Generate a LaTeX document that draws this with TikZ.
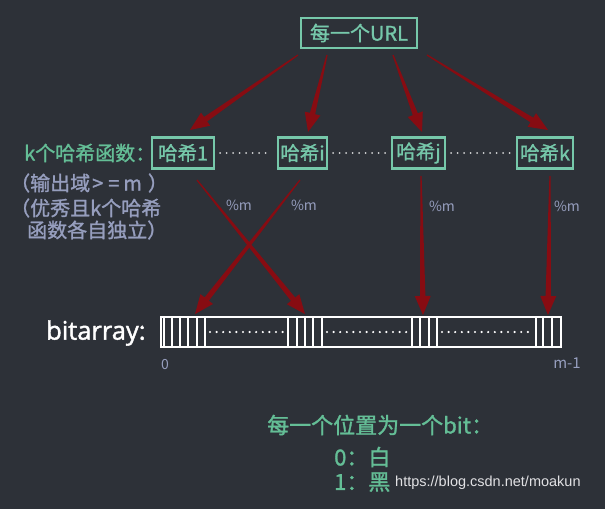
\documentclass[tikz,border=0pt]{standalone}
\usepackage{fontspec}
\setmainfont{Noto Sans CJK SC}
\newfontfamily\cjkm{Noto Sans CJK SC}[FakeBold=1.3]
\newfontfamily\wmfont{Liberation Sans}
\newfontfamily\latfont{Open Sans}[FakeBold=1.6]
\usetikzlibrary{calc}
\definecolor{bg}{RGB}{45,49,56}
\definecolor{mint}{RGB}{118,200,170}
\definecolor{txtgreen}{RGB}{100,190,150}
\definecolor{soft}{RGB}{150,158,190}
\definecolor{arrowred}{RGB}{135,12,18}
\definecolor{wm}{RGB}{225,225,228}
\newcommand{\taperarrow}[2]{%
  \path ($(#2)!19pt!(#1)$) coordinate (tH);
  \fill[arrowred] ($(#1)!0.6pt!90:(#2)$) -- ($(tH)!2.7pt!90:(#2)$) -- ($(tH)!8pt!90:(#2)$) -- (#2)
    -- ($(tH)!8pt!-90:(#2)$) -- ($(tH)!2.7pt!-90:(#2)$) -- ($(#1)!0.6pt!-90:(#2)$) -- cycle;}
\tikzset{
  hbox/.style={draw=mint, line width=2.2pt, text=mint, inner sep=0pt, minimum height=31pt,
    font=\cjkm\fontsize{19.5}{22}\selectfont},
  dotline/.style={draw=white!80!bg, line width=2pt, line cap=round, dash pattern=on 0pt off 6.5pt,
    shorten <=5pt, shorten >=5pt},
  bitdots/.style={draw=white, line width=2.4pt, line cap=round, dash pattern=on 0pt off 6.6pt},
  cell/.style={draw=white, line width=1.8pt},
  lefttxt/.style={anchor=west, inner sep=0pt, font=\cjkm\fontsize{20}{24}\selectfont},
  bottxt/.style={anchor=west, inner sep=0pt, text=txtgreen, font=\cjkm\fontsize{22}{26}\selectfont},
  modlbl/.style={inner sep=0pt, text=soft, font=\fontsize{14}{16}\selectfont},
}
\begin{document}
\begin{tikzpicture}[x=1pt,y=-1pt]
\fill[bg] (0,0) rectangle (605,509);
\useasboundingbox (0,0) rectangle (605,509);

% boxes
\node[hbox, minimum width=116pt, minimum height=30pt, font=\cjkm\fontsize{20}{24}\selectfont] (url) at (359,33) {每一个URL};
\node[hbox, minimum width=62pt] (h1) at (183,153) {哈希1};
\node[hbox, minimum width=49pt] (hi) at (302.5,153) {哈希i};
\node[hbox, minimum width=53pt] (hj) at (418.5,153) {哈希j};
\node[hbox, minimum width=56pt] (hk) at (545,153) {哈希k};

\draw[dotline] (h1.east) -- (hi.west);
\draw[dotline] (hi.east) -- (hj.west);
\draw[dotline] (hj.east) -- (hk.west);

% left texts
\node[lefttxt, text=txtgreen] (ktitle) at (24,153) {k个哈希函数：};
\node[lefttxt, text=soft] (p1) at (10,183) {（输出域\hspace{2pt}>\hspace{5pt}=\hspace{4pt}m\hspace{6pt}）};
\node[lefttxt, text=soft] (p2) at (10,208) {（优秀且k个哈希};
\node[lefttxt, text=soft] (p3) at (27,230) {函数各自独立）};

% bit array
\node[draw=white, line width=2pt, minimum width=400pt, minimum height=30pt, inner sep=0pt] (bits) at (361,332) {};
\foreach \x in {164,172,180,188,197,205, 288,297,305,313,322, 412,420,429,437, 536,543,552}
  \draw[cell] (\x,317) -- (\x,347);
\draw[bitdots] (210,332) -- (285,332);
\draw[bitdots] (327,332) -- (407,332);
\draw[bitdots] (442,332) -- (528,332);

\node[anchor=west, inner sep=0pt, text=white, font=\latfont\fontsize{25.5}{30}\selectfont] (bitlbl) at (46,333) {bitarray:};
\node[modlbl] (zero) at (165,365) {0};
\node[modlbl, font=\fontsize{15}{17}\selectfont] (mlast) at (567,363) {m-1};

% mod labels
\node[modlbl] (m1) at (239,205) {\%m};
\node[modlbl] (m2) at (304,205) {\%m};
\node[modlbl] (m3) at (442,206) {\%m};
\node[modlbl] (m4) at (567,206) {\%m};

% arrows
\coordinate (s1) at (298,55); \coordinate (t1) at (190,130);
\coordinate (s2) at (327,55); \coordinate (t2) at (308,132);
\coordinate (s3) at (393,55); \coordinate (t3) at (422,132);
\coordinate (s4) at (427,55); \coordinate (t4) at (548,130);
\coordinate (s5) at (197,180); \coordinate (t5) at (305,314);
\coordinate (s6) at (300,180); \coordinate (t6) at (195,314);
\coordinate (s7) at (421,176); \coordinate (t7) at (423,315);
\coordinate (s8) at (550,176); \coordinate (t8) at (548,315);
\taperarrow{s1}{t1}
\taperarrow{s2}{t2}
\taperarrow{s3}{t3}
\taperarrow{s4}{t4}
\taperarrow{s5}{t5}
\taperarrow{s6}{t6}
\taperarrow{s7}{t7}
\taperarrow{s8}{t8}

% bottom notes
\node[bottxt] (note) at (267,425) {每一个位置为一个bit：};
\node[bottxt] (zeroline) at (334,457) {0：白};
\node[bottxt] (oneline) at (334,482) {1：黑};
\node[anchor=west, inner sep=0pt, text=wm, font=\wmfont\fontsize{14.5}{17}\selectfont] (wmark) at (395,483) {https://blog.csdn.net/moakun};
\end{tikzpicture}
\end{document}
